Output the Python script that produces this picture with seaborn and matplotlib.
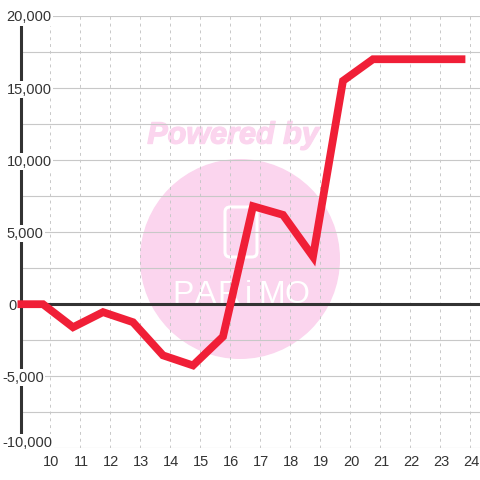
import pandas as pd
import matplotlib
matplotlib.use('Agg')
import matplotlib.pyplot as plt
import matplotlib.patheffects as pe
import seaborn as sns
from matplotlib.patches import Circle, FancyBboxPatch
from matplotlib.transforms import Affine2D, ScaledTranslation, blended_transform_factory

# Values
hours = [8.9, 9.75, 10.75, 11.75, 12.75, 13.75, 14.75, 15.75, 16.75, 17.75, 18.75, 19.75, 20.75, 21.75, 22.75, 23.83]
values = [0, 0, -1600, -550, -1250, -3550, -4250, -2250, 6800, 6200, 3300, 15500, 17000, 17000, 17000, 17000]
x_ticks = list(range(10, 25))
y_ticks = [-10000, -5000, 0, 5000, 10000, 15000, 20000]
y_minor = [-7500, -2500, 2500, 7500, 12500, 17500]
y_labels = ['-10,000', '-5,000', '0', '5,000', '10,000', '15,000', '20,000']
y_label_left = [2, 2, 8, 6.5, 6.5, 6.5, 6.5]
y_label_lift = [7, 0, 0, 0, 0, 0, 0]

sns.set_theme(style='white')
plt.rcParams['font.family'] = ['Liberation Sans', 'DejaVu Sans']

fig = plt.figure(figsize=(4.8, 4.8), dpi=100, facecolor='white')
ax = fig.add_axes([20.5 / 480, (480 - 448.3) / 480, 459.5 / 480, 432.3 / 480])

# Pixel coordinates measured from the top left, for the watermark
px = Affine2D().scale(1, -1).translate(0, 480)

pink = '#fbd5ee'
ax.add_patch(Circle((240, 259), 100, transform=px, color=pink, lw=0, zorder=0.5))
ax.add_patch(FancyBboxPatch((225, 207), 32, 50, boxstyle='round,pad=0,rounding_size=5', transform=px,
                            fc='none', ec='white', lw=2.2, zorder=0.6))
ax.text(233, 135.5, 'Powered by', transform=px, color=pink, fontsize=22, fontweight='bold', fontstyle='italic',
        ha='center', va='center', zorder=0.6,
        path_effects=[pe.withStroke(linewidth=1.0, foreground=pink)])
for letter, lx in zip('PARiMO', [183, 206, 229, 248, 272, 297]):
    ax.text(lx, 303, letter, transform=px, color='white', fontsize=23, ha='center', va='baseline', zorder=0.6)

# Grid
for v in y_ticks + y_minor:
    ax.axhline(v, color='#c8c8c8', lw=0.8, zorder=1)
for t in x_ticks:
    ax.axvline(t, color='#c8c8c8', lw=0.7, ls=(0, (3, 4)), zorder=1)

# Axis lines
ax.plot([9, 9], [-9300, 19500], color='#333333', lw=2.2, solid_capstyle='butt', clip_on=False, zorder=2)
ax.axhline(0, color='#333333', lw=2.2, zorder=2)

data = pd.DataFrame({'hour': hours, 'value': values})
sns.lineplot(data=data, x='hour', y='value', color='#f01f37', lw=5.6, ax=ax, zorder=3, clip_on=False,
             solid_capstyle='butt', solid_joinstyle='miter', errorbar=None, sort=False)

ax.set_xlim(9, 24.317)
ax.set_ylim(-10000, 20000)
ax.set_xlabel('')
ax.set_ylabel('')
ax.set_xticks(x_ticks)
ax.set_yticks([])
ax.tick_params(axis='x', length=0, pad=5, labelsize=10.5, labelcolor='#333333')
shift = ScaledTranslation(1 / 100, 0, fig.dpi_scale_trans)
for lab in ax.get_xticklabels():
    lab.set_transform(lab.get_transform() + shift)
for s in ax.spines.values():
    s.set_visible(False)

# y labels sit on a white box that cuts the axis line and grid
base = blended_transform_factory(px, ax.transData)
for v, lab, left, lift in zip(y_ticks, y_labels, y_label_left, y_label_lift):
    nudge = ScaledTranslation(0, (lift - 1.5) / 100, fig.dpi_scale_trans)
    ax.text(left, v, lab, transform=base + nudge, ha='left', va='center', fontsize=10.5, color='#333333',
            clip_on=False, zorder=2.5, bbox=dict(fc='white', ec='none', pad=1.2))

plt.savefig('out.png', dpi=100)
plt.close()
